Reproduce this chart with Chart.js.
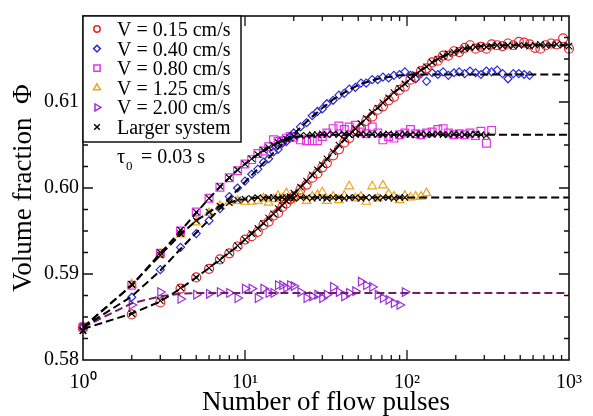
<!DOCTYPE html>
<html>
<head>
<meta charset="utf-8">
<script src="https://cdn.jsdelivr.net/npm/chart.js@4.4.1/dist/chart.umd.min.js"></script>
<style>
  html, body { margin: 0; padding: 0; background: #fff; }
  canvas { display: block; }
</style>
</head>
<body>
<canvas id="chart" width="593" height="416"></canvas>
<script>
// number of flow pulses (shared x positions of the samples)
const pulses = [1, 2, 3, 4, 5, 6, 7, 8, 9, 10,
  11, 12, 13, 14, 15, 16, 17, 18, 19, 20,
  22, 24, 26, 28, 30, 32, 35, 38, 41, 44,
  48, 52, 56, 61, 66, 71, 77, 83, 90, 97,
  105, 113, 122, 132, 143, 155, 167, 180, 195, 210,
  227, 245, 265, 286, 309, 333, 360, 389, 420, 453,
  490, 529, 571, 617, 666, 719, 777, 839, 920, 1000];

const seriesLabels = ["V = 0.15 cm/s", "V = 0.40 cm/s", "V = 0.80 cm/s",
  "V = 1.25 cm/s", "V = 2.00 cm/s", "Larger system"];

// measured volume fraction, one array per flow speed
const phiV015 = [0.5838, 0.5853, 0.5867, 0.5883, 0.5896, 0.5906, 0.5917, 0.5924, 0.5932, 0.5940,
  0.5944, 0.5949, 0.5957, 0.5961, 0.5968, 0.5971, 0.5978, 0.5982, 0.5987, 0.5990,
  0.5998, 0.6004, 0.6012, 0.6017, 0.6024, 0.6029, 0.6038, 0.6045, 0.6053, 0.6058,
  0.6066, 0.6070, 0.6078, 0.6083, 0.6091, 0.6095, 0.6102, 0.6106, 0.6114, 0.6118,
  0.6126, 0.6129, 0.6136, 0.6139, 0.6146, 0.6148, 0.6154, 0.6154, 0.6159, 0.6158,
  0.6163, 0.6166, 0.6162, 0.6164, 0.6162, 0.6167, 0.6166, 0.6165, 0.6168, 0.6166,
  0.6170, 0.6169, 0.6167, 0.6163, 0.6162, 0.6166, 0.6168, 0.6167, 0.6174, 0.6162];

const phiV040 = [0.5838, 0.5873, 0.5905, 0.5931, 0.5947, 0.5962, 0.5976, 0.5990, 0.6000, 0.6008,
  0.6016, 0.6022, 0.6030, 0.6034, 0.6042, 0.6045, 0.6052, 0.6054, 0.6060, 0.6064,
  0.6071, 0.6076, 0.6084, 0.6089, 0.6092, 0.6098, 0.6102, 0.6108, 0.6110, 0.6115,
  0.6117, 0.6122, 0.6122, 0.6126, 0.6126, 0.6129, 0.6128, 0.6131, 0.6132, 0.6135,
  0.6131, 0.6127, 0.6133, 0.6124, 0.6134, 0.6132, 0.6135, 0.6131, 0.6134, 0.6135,
  0.6133, 0.6136, 0.6134, 0.6132, 0.6136, 0.6135, 0.6137, 0.6133, 0.6127, 0.6133,
  0.6133, 0.6132, 0.6131];

const phiV080 = [0.5838, 0.5887, 0.5924, 0.5950, 0.5972, 0.5988, 0.6001, 0.6012, 0.6020, 0.6028,
  0.6033, 0.6040, 0.6043, 0.6048, 0.6056, 0.6054, 0.6055, 0.6058, 0.6060, 0.6059,
  0.6056, 0.6055, 0.6055, 0.6055, 0.6060, 0.6064, 0.6069, 0.6072, 0.6068, 0.6071,
  0.6073, 0.6065, 0.6063, 0.6071, 0.6064, 0.6056, 0.6060, 0.6058, 0.6062, 0.6064,
  0.6068, 0.6063, 0.6062, 0.6064, 0.6065, 0.6068, 0.6069, 0.6064, 0.6062, 0.6063,
  0.6062, 0.6064, 0.6061, 0.6066, 0.6052, 0.6067];

const phiV125 = [0.5838, 0.5888, 0.5923, 0.5946, 0.5960, 0.5971, 0.5979, 0.5984, 0.5985, 0.5984,
  0.5984, 0.5985, 0.5988, 0.5983, 0.5987, 0.5991, 0.5988, 0.5994, 0.5986, 0.5989,
  0.5993, 0.5985, 0.5990, 0.5992, 0.5995, 0.5985, 0.5990, 0.5986, 0.5991, 0.6002,
  0.5988, 0.5990, 0.5984, 0.6002, 0.5988, 0.6003, 0.5993, 0.5990, 0.5986, 0.5991,
  0.5989, 0.5990, 0.5990, 0.5994];

const phiV200 = [0.5838, 0.5864, 0.5879, 0.5871, 0.5876, 0.5877, 0.5879, 0.5878, 0.5872, 0.5883,
  0.5883, 0.5872, 0.5883, 0.5878, 0.5878, 0.5887, 0.5887, 0.5884, 0.5887, 0.5886,
  0.5879, 0.5872, 0.5874, 0.5876, 0.5872, 0.5876, 0.5885, 0.5879, 0.5874, 0.5878,
  0.5880, 0.5891, 0.5887, 0.5885, 0.5876, 0.5872, 0.5870, 0.5866, 0.5864, 0.5879];

// larger system runs (black crosses)
const largeV015 = [0.5834, 0.5854, 0.5869, 0.5884, 0.5896, 0.5907, 0.5916, 0.5925, 0.5933, 0.5940,
  0.5947, 0.5953, 0.5959, 0.5965, 0.5970, 0.5976, 0.5980, 0.5985, 0.5989, 0.5994,
  0.6001, 0.6008, 0.6015, 0.6021, 0.6027, 0.6034, 0.6042, 0.6050, 0.6057, 0.6062,
  0.6069, 0.6075, 0.6081, 0.6088, 0.6093, 0.6099, 0.6105, 0.6111, 0.6116, 0.6121,
  0.6127, 0.6132, 0.6137, 0.6141, 0.6146, 0.6150, 0.6153, 0.6156, 0.6158, 0.6160,
  0.6162, 0.6163, 0.6164, 0.6165, 0.6164, 0.6165, 0.6166, 0.6165, 0.6166, 0.6165,
  0.6166, 0.6166, 0.6165, 0.6166, 0.6167, 0.6166, 0.6166, 0.6167, 0.6166, 0.6165];

const largeV080 = [0.5834, 0.5888, 0.5925, 0.5951, 0.5972, 0.5988, 0.6002, 0.6012, 0.6021, 0.6028,
  0.6034, 0.6039, 0.6044, 0.6047, 0.6050, 0.6053, 0.6055, 0.6057, 0.6058, 0.6060,
  0.6061, 0.6061, 0.6062, 0.6062, 0.6063, 0.6062, 0.6063, 0.6062, 0.6063, 0.6062,
  0.6062, 0.6063, 0.6062, 0.6063, 0.6062, 0.6062, 0.6063, 0.6062, 0.6062, 0.6063,
  0.6062, 0.6062, 0.6063, 0.6062, 0.6062, 0.6063, 0.6062, 0.6062, 0.6063, 0.6062,
  0.6062, 0.6062, 0.6063, 0.6062, 0.6061];

const largeV125 = [0.5834, 0.5888, 0.5922, 0.5947, 0.5962, 0.5972, 0.5979, 0.5983, 0.5986, 0.5987,
  0.5988, 0.5989, 0.5988, 0.5989, 0.5989, 0.5988, 0.5989, 0.5989, 0.5990, 0.5988,
  0.5989, 0.5989, 0.5988, 0.5989, 0.5989, 0.5988, 0.5989, 0.5989, 0.5988, 0.5989,
  0.5989, 0.5988, 0.5989, 0.5989, 0.5988, 0.5989, 0.5989, 0.5988, 0.5989, 0.5989];

// fitted curves (dashed), last value is the plateau carried out to 10^3
const fitV015 = [0.5836, 0.5854, 0.5868, 0.5883, 0.5896, 0.5907, 0.5917, 0.5925, 0.5932, 0.5940,
  0.5947, 0.5953, 0.5959, 0.5965, 0.5970, 0.5975, 0.5980, 0.5985, 0.5989, 0.5993,
  0.6001, 0.6008, 0.6015, 0.6021, 0.6027, 0.6033, 0.6042, 0.6049, 0.6056, 0.6062,
  0.6069, 0.6075, 0.6081, 0.6088, 0.6093, 0.6099, 0.6105, 0.6111, 0.6116, 0.6121,
  0.6127, 0.6132, 0.6137, 0.6141, 0.6146, 0.6150, 0.6153, 0.6156, 0.6158, 0.6160,
  0.6162, 0.6163, 0.6164, 0.6165, 0.6165, 0.6166];

const fitV040 = [0.5838, 0.5874, 0.5904, 0.5929, 0.5948, 0.5963, 0.5976, 0.5988, 0.5998, 0.6007,
  0.6015, 0.6022, 0.6029, 0.6035, 0.6041, 0.6046, 0.6051, 0.6055, 0.6059, 0.6063,
  0.6070, 0.6077, 0.6083, 0.6088, 0.6093, 0.6097, 0.6103, 0.6107, 0.6111, 0.6114,
  0.6118, 0.6121, 0.6123, 0.6125, 0.6127, 0.6128, 0.6129, 0.6130, 0.6131, 0.6131,
  0.6132];

const fitV080 = [0.5838, 0.5887, 0.5924, 0.5950, 0.5971, 0.5988, 0.6001, 0.6012, 0.6021, 0.6028,
  0.6034, 0.6039, 0.6043, 0.6047, 0.6050, 0.6053, 0.6055, 0.6057, 0.6058, 0.6059,
  0.6060, 0.6061, 0.6061, 0.6062];

const fitV125 = [0.5838, 0.5887, 0.5922, 0.5946, 0.5962, 0.5972, 0.5979, 0.5983, 0.5986, 0.5987,
  0.5988, 0.5989];

const fitV200 = [0.5838, 0.5866, 0.5874, 0.5877, 0.5878];

const yTickValues = [0.58, 0.59, 0.60, 0.61];
const xTickValues = [1, 10, 100, 1000];

const SERIF = "'Liberation Serif', 'Times New Roman', serif";
const RED = '#e8262b', BLUE = '#2b2bd8', MAGENTA = '#e532e5',
  ORANGE = '#f2a21d', PURPLE = '#9b30d9', MAROON = '#6e1f66';

const pts = (ys) => ys.map((y, i) => ({ x: pulses[i], y }));
const fitPts = (ys) => pts(ys).concat([{ x: 1000, y: ys[ys.length - 1] }]);

function markers(ys, style, color, radius, rotation) {
  return {
    data: pts(ys), showLine: false, clip: 8,
    pointStyle: style, pointRadius: radius, pointRotation: rotation,
    pointBorderColor: color, pointBackgroundColor: 'rgba(0,0,0,0)',
    pointBorderWidth: 1.2, borderColor: color
  };
}
function dashed(ys, color) {
  return {
    data: fitPts(ys), borderColor: color, borderWidth: 2,
    borderDash: [8, 4], pointRadius: 0, tension: 0, clip: 8
  };
}
function larger(ys) {
  return {
    data: pts(ys), showLine: false, clip: 8,
    pointStyle: 'crossRot', pointRadius: 4.5, pointBorderColor: '#000',
    pointBorderWidth: 1.1, borderColor: '#000'
  };
}

const supDigits = { 0: '\u2070', 1: '\u00b9', 2: '\u00b2', 3: '\u00b3' };

// frame with inward ticks, in-plot legend and annotation
const decorations = {
  id: 'decorations',
  afterDraw(chart) {
    const { ctx, chartArea: a, scales: { x, y } } = chart;
    const h = Chart.helpers;
    ctx.save();
    ctx.strokeStyle = '#111';
    ctx.lineWidth = 1.3;
    ctx.beginPath();
    for (let k = 0; k < 3; k++) {
      for (let m = 1; m < 10; m++) {
        const v = m * Math.pow(10, k);
        if (v === 1) continue;
        const px = x.getPixelForValue(v);
        const len = m === 1 ? 10 : 5;
        ctx.moveTo(px, a.bottom); ctx.lineTo(px, a.bottom - len);
        ctx.moveTo(px, a.top); ctx.lineTo(px, a.top + len);
      }
    }
    for (let i = 1; i < 16; i++) {
      const py = y.getPixelForValue(0.58 + i * 0.0025);
      const len = i % 4 === 0 ? 10 : 5;
      ctx.moveTo(a.left, py); ctx.lineTo(a.left + len, py);
      ctx.moveTo(a.right, py); ctx.lineTo(a.right - len, py);
    }
    ctx.stroke();
    ctx.lineWidth = 1.6;
    ctx.strokeRect(a.left, a.top, a.right - a.left, a.bottom - a.top);

    // legend box
    const lx = a.left, ly = a.top, lw = 158, lh = 126;
    ctx.fillStyle = '#fff';
    ctx.fillRect(lx, ly, lw, lh);
    ctx.lineWidth = 1.5;
    ctx.strokeStyle = '#111';
    ctx.strokeRect(lx, ly, lw, lh);
    const legendMarks = [
      { pointStyle: 'circle', radius: 3.2, rotation: 0, color: RED },
      { pointStyle: 'rectRot', radius: 3.4, rotation: 0, color: BLUE },
      { pointStyle: 'rect', radius: 4.4, rotation: 0, color: MAGENTA },
      { pointStyle: 'triangle', radius: 4, rotation: 0, color: ORANGE },
      { pointStyle: 'triangle', radius: 4, rotation: 90, color: PURPLE },
      { pointStyle: 'crossRot', radius: 4, rotation: 0, color: '#000' }
    ];
    ctx.font = '20px ' + SERIF;
    ctx.textBaseline = 'alphabetic';
    ctx.textAlign = 'left';
    seriesLabels.forEach((label, i) => {
      const ry = ly + 13 + i * 19.6;
      const mk = legendMarks[i];
      ctx.strokeStyle = mk.color;
      ctx.fillStyle = 'rgba(0,0,0,0)';
      h.drawPoint(ctx, { pointStyle: mk.pointStyle, radius: mk.radius,
        rotation: mk.rotation, borderWidth: 1.2 }, lx + 14, ry);
      ctx.fillStyle = '#000';
      ctx.fillText(label, lx + 34, ry + 7);
    });

    // tau annotation
    ctx.fillStyle = '#000';
    ctx.font = '20px ' + SERIF;
    ctx.fillText('\u03c4', 117, 163);
    ctx.font = '13px ' + SERIF;
    ctx.fillText('0', 126, 170);
    ctx.font = '20px ' + SERIF;
    ctx.fillText('= 0.03 s', 141, 163);
    ctx.restore();
  }
};

new Chart(document.getElementById('chart'), {
  type: 'line',
  data: {
    datasets: [
      larger(largeV015),
      larger(largeV080),
      larger(largeV125),
      dashed(fitV015, '#000'),
      dashed(fitV040, '#000'),
      dashed(fitV080, '#000'),
      dashed(fitV125, '#000'),
      dashed(fitV200, MAROON),
      markers(phiV015, 'circle', RED, 4.5, 0),
      markers(phiV040, 'rectRot', BLUE, 4, 0),
      markers(phiV080, 'rect', MAGENTA, 5.5, 0),
      markers(phiV125, 'triangle', ORANGE, 5, 0),
      markers(phiV200, 'triangle', PURPLE, 5, 90)
    ]
  },
  options: {
    responsive: false,
    animation: false,
    devicePixelRatio: 1,
    layout: { padding: { top: 14, right: 16, left: 0, bottom: 0 } },
    plugins: { legend: { display: false }, tooltip: { enabled: false } },
    scales: {
      x: {
        type: 'logarithmic', min: 1, max: 1000,
        grid: { display: false, drawTicks: false },
        border: { display: false },
        afterBuildTicks: (s) => { s.ticks = xTickValues.map((v) => ({ value: v })); },
        afterFit: (s) => { s.height = 56; },
        ticks: {
          color: '#000', padding: 11, maxRotation: 0, autoSkip: false,
          font: { family: SERIF, size: 20 },
          callback: (v) => '10' + supDigits[Math.round(Math.log10(v))]
        },
        title: {
          display: true, text: 'Number of flow pulses', color: '#000',
          font: { family: SERIF, size: 27, lineHeight: 1 },
          padding: { top: 0, bottom: 0 }
        }
      },
      y: {
        min: 0.58, max: 0.62,
        grid: { display: false, drawTicks: false },
        border: { display: false },
        afterBuildTicks: (s) => { s.ticks = yTickValues.map((v) => ({ value: v })); },
        afterFit: (s) => { s.width = 83; },
        ticks: {
          color: '#000', padding: 4,
          font: { family: SERIF, size: 20 },
          callback: (v) => v.toFixed(2)
        },
        title: {
          display: true, text: 'Volume fraction  \u03a6', color: '#000',
          font: { family: SERIF, size: 27, lineHeight: 1 },
          padding: { top: 10, bottom: 0 }
        }
      }
    }
  },
  plugins: [decorations]
});
</script>
</body>
</html>
